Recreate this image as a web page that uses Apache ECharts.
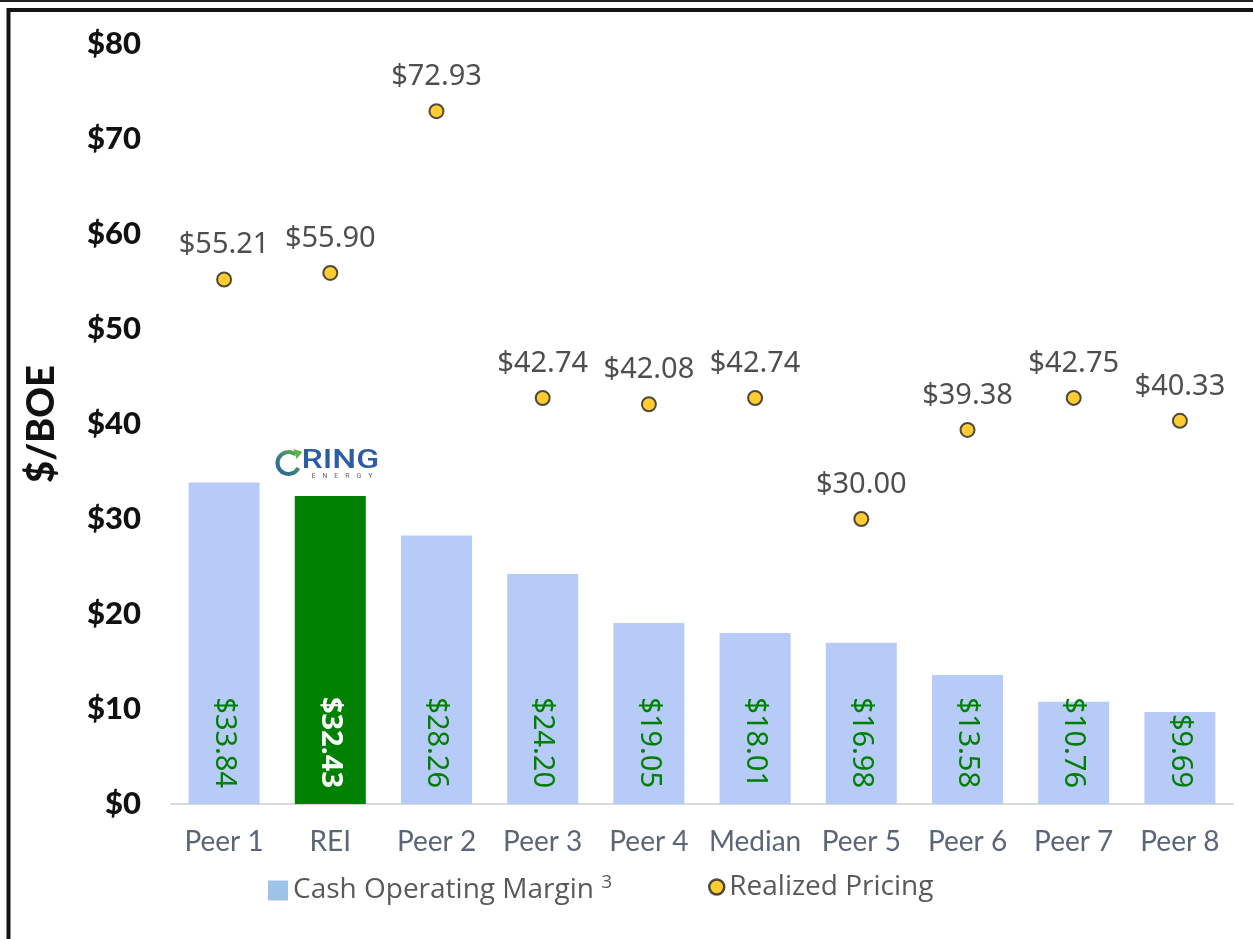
<!DOCTYPE html>
<html>
<head>
<meta charset="utf-8">
<script src="https://cdn.jsdelivr.net/npm/echarts@6/dist/echarts.min.js"></script>
<style>
  html, body { margin: 0; padding: 0; background: #fff; }
  #chart { width: 1253px; height: 939px; }
</style>
</head>
<body>
<div id="chart"></div>
<script>
// categories + values
var categories = ["Peer 1", "REI", "Peer 2", "Peer 3", "Peer 4", "Median", "Peer 5", "Peer 6", "Peer 7", "Peer 8"];
var marginValues = [33.84, 32.43, 28.26, 24.20, 19.05, 18.01, 16.98, 13.58, 10.76, 9.69];
var pricingValues = [55.21, 55.90, 72.93, 42.74, 42.08, 42.74, 30.00, 39.38, 42.75, 40.33];
var yTicks = [0, 10, 20, 30, 40, 50, 60, 70, 80];

var barBlue = "#b7cbf8";
var green = "#008000";
var gold = "#ffc000";

var myChart = echarts.init(document.getElementById("chart"));

var barData = marginValues.map(function (v, i) {
  if (categories[i] === "REI") {
    return {
      value: v,
      itemStyle: { color: green },
      label: { color: "#fff", fontWeight: "bold" }
    };
  }
  return v;
});

var legendText = {
  fontFamily: "Open Sans", fontSize: 28, color: "#595959",
  rich: { sup: { fontFamily: "Open Sans", fontSize: 19, color: "#595959", padding: [0, 0, 16, 0] } }
};

var option = {
  animation: false,
  grid: { left: 171, right: 20, top: 44, bottom: 135 },
  legend: [
    {
      left: 263,
      top: 868,
      itemWidth: 20,
      itemHeight: 20,
      textStyle: legendText,
      data: [{ name: "Cash Operating Margin", icon: "rect", itemStyle: { color: "#9dc3e6" } }],
      formatter: function (name) { return name + " {sup|3}"; }
    },
    {
      left: 703,
      top: 868,
      itemWidth: 15,
      itemHeight: 15,
      textStyle: legendText,
      data: [{ name: "Realized Pricing", icon: "circle", itemStyle: { color: gold, borderColor: "#222", borderWidth: 2.5 } }]
    }
  ],
  xAxis: {
    type: "category",
    data: categories,
    axisLine: { lineStyle: { color: "#d9d9d9", width: 2 } },
    axisTick: { show: false },
    axisLabel: { interval: 0, fontFamily: "Lato", fontSize: 28, color: "#5b6577", margin: 24 }
  },
  yAxis: {
    type: "value",
    min: 0,
    max: 80,
    interval: 10,
    name: "$/BOE",
    nameLocation: "middle",
    nameGap: 110,
    nameTextStyle: { fontFamily: "Lato", fontSize: 38, fontWeight: 900, color: "#111" },
    splitLine: { show: false },
    axisLine: { show: false },
    axisTick: { show: false },
    axisLabel: {
      fontFamily: "Lato", fontSize: 31, fontWeight: 900, color: "#111", margin: 30,
      formatter: function (v) { return yTicks.indexOf(v) >= 0 ? "$" + v : ""; }
    }
  },
  series: [
    {
      name: "Cash Operating Margin",
      type: "bar",
      barWidth: 71,
      itemStyle: { color: barBlue },
      label: {
        show: true,
        position: "insideBottom",
        rotate: -90,
        align: "right",
        verticalAlign: "middle",
        distance: 16,
        fontFamily: "Noto Sans",
        fontSize: 29,
        color: green,
        formatter: function (p) { return "$" + p.value.toFixed(2); }
      },
      data: barData
    },
    {
      name: "Realized Pricing",
      type: "scatter",
      symbol: "circle",
      symbolSize: 14,
      itemStyle: { color: gold, borderColor: "#222", borderWidth: 2 },
      label: {
        show: true,
        position: "top",
        distance: 12,
        fontFamily: "Noto Sans",
        fontSize: 29,
        color: "#222",
        formatter: function (p) { return "$" + p.value.toFixed(2); }
      },
      data: pricingValues
    }
  ],
  graphic: [
    // outer frame
    { type: "line", shape: { x1: 0, y1: 1, x2: 1253, y2: 1 }, style: { stroke: "#222", lineWidth: 2 } },
    { type: "polyline", shape: { points: [[8.5, 939], [8.5, 10], [1253, 10]] }, style: { stroke: "#151515", lineWidth: 4, fill: null } },
    // Ring Energy logo above REI bar
    {
      type: "group",
      left: 275,
      top: 449,
      children: [
        {
          type: "arc",
          shape: { cx: 13, cy: 15, r: 11, startAngle: Math.PI * 0.15, endAngle: Math.PI * 1.72 },
          style: {
            stroke: new echarts.graphic.LinearGradient(0, 1, 1, 0, [
              { offset: 0, color: "#1f57a8" },
              { offset: 1, color: "#5fb544" }
            ]),
            lineWidth: 4,
            fill: null
          }
        },
        { type: "polygon", shape: { points: [[18, 1], [27, 4], [21, 11]] }, style: { fill: "#5fb544" } },
        { type: "text", x: 26, y: 1, scaleX: 1.35, style: { text: "RING", font: "500 25px Roboto", fill: "#2c5ca6" } },
        { type: "text", x: 36, y: 25, style: { text: "E    N    E    R    G    Y", font: "7px Roboto", fill: "#666" } }
      ]
    }
  ]
};

myChart.setOption(option);
</script>
</body>
</html>
